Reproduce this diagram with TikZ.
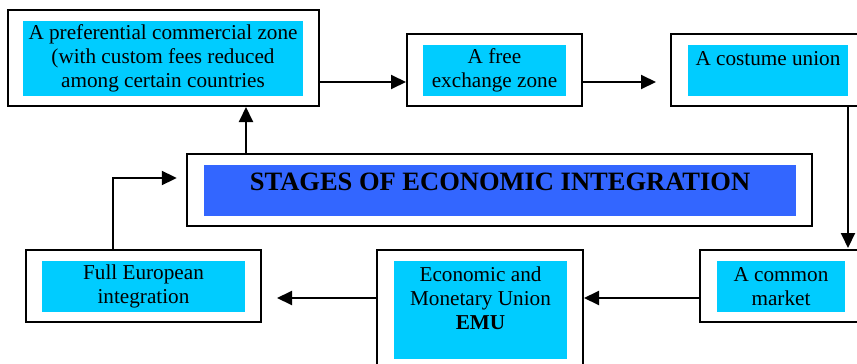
\documentclass[tikz,border=0pt]{standalone}
\usepackage{fontspec}
\setmainfont{Liberation Serif}
\usetikzlibrary{arrows.meta}
\definecolor{stagecyan}{HTML}{00CCFF}
\definecolor{titleblue}{HTML}{3366FF}

\begin{document}
\begin{tikzpicture}[x=1pt,y=-1pt,
  frame/.style={draw,line width=2pt,inner sep=0pt},
  stage/.style={fill=stagecyan,inner sep=0pt,align=center,font=\fontsize{21.2}{24}\selectfont},
  flow/.style={line width=2pt,-{Triangle[length=15pt,width=14pt]}}]
\useasboundingbox (0,0) rectangle (857,364);
\clip (0,0) rectangle (857,364);
 %\draw[help lines] (0,0) grid[step=50] (857,364);

% outer frames
\node[frame,minimum width=311.5,minimum height=96] (pref) at (163.25,58) {};
\node[frame,minimum width=175,minimum height=72] (free) at (494.5,70) {};
\node[frame,minimum width=209,minimum height=72] (union) at (775.5,70) {};
\node[frame,minimum width=625,minimum height=72] (title) at (499.3,190) {};
\node[frame,minimum width=180,minimum height=72] (market) at (790,286) {};
\node[frame,minimum width=206,minimum height=130] (emu) at (480,315) {};
\node[frame,minimum width=235,minimum height=72] (full) at (143.5,286) {};

% coloured inner boxes with the texts
\node[stage,minimum width=280,minimum height=75] (preftxt) at (163,58.5)
  {A preferential commercial zone\\(with custom fees reduced\\among certain countries};
\node[stage,minimum width=143,minimum height=51] (freetxt) at (494.5,70.5) {A free\\exchange zone};
\node[stage,minimum width=160,minimum height=51] (uniontxt) at (768,70.5) {A costume union\\~};
\node[fill=titleblue,inner sep=0pt,minimum width=592,minimum height=51,text depth=18pt,
  font=\fontsize{26.5}{30}\selectfont\bfseries] (titletxt) at (500,190.5) {STAGES OF ECONOMIC INTEGRATION};
\node[stage,minimum width=128,minimum height=51] (markettxt) at (781,286.5) {A common\\market};
\node[stage,minimum width=173,minimum height=98] (emutxt) at (480.5,310)
  {Economic and\\Monetary Union\\\textbf{EMU}\\~};
\node[stage,minimum width=203,minimum height=51] (fulltxt) at (143.5,286.5) {Full European\\integration};

% where the arrows run
\coordinate (row1) at (0,82);
\coordinate (row3) at (0,298);
\coordinate (drop) at (848,0);
\coordinate (rise) at (246,0);
\coordinate (turn) at (113,178);

\draw[flow] (pref.east |- row1) -- (free.west |- row1);
\draw[flow,shorten >=14pt] (free.east |- row1) -- (union.west |- row1);
\draw[flow,shorten >=1pt] (union.south -| drop) -- (market.north -| drop);
\draw[flow] (market.west |- row3) -- (emu.east |- row3);
\draw[flow,shorten >=15pt] (emu.west |- row3) -- (full.east |- row3);
\draw[flow,shorten >=9pt] (full.north -| turn) |- (title.west |- turn);
\draw[flow] (title.north -| rise) -- (pref.south -| rise);
\end{tikzpicture}
\end{document}
